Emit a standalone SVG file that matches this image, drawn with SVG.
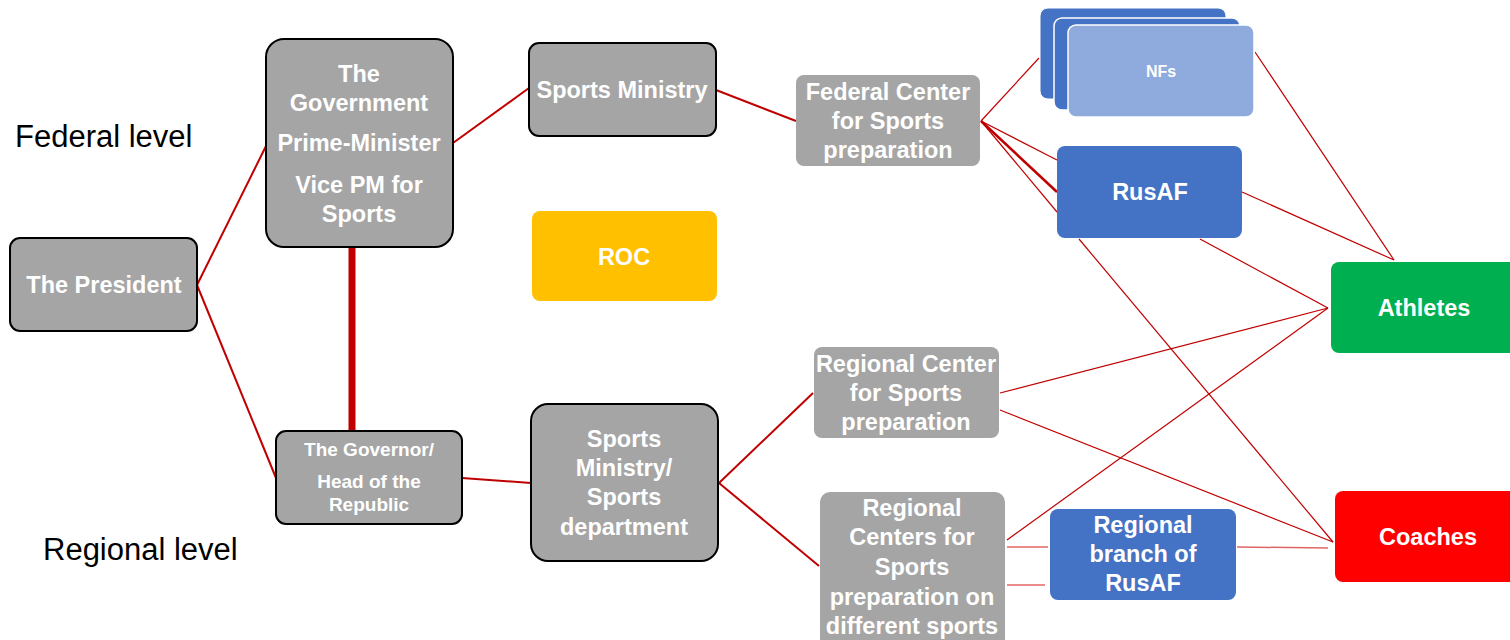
<svg xmlns="http://www.w3.org/2000/svg" width="1510" height="640" viewBox="0 0 1510 640">
<style>
.g{fill:#a5a5a5}
.gs{fill:#a5a5a5;stroke:#000;stroke-width:2}
.t{font-family:"Liberation Sans",Arial,sans-serif;font-weight:bold;fill:#fff;text-anchor:middle;font-size:23.5px}
.lvl{font-family:"Liberation Sans",Arial,sans-serif;font-size:31px;fill:#000}
.c{stroke:#c00000;fill:none}
.m{stroke-width:2}
.s{stroke-width:1.2}
</style>
<rect width="1510" height="640" fill="#fff"/>
<text class="lvl" x="15" y="147">Federal level</text>
<text class="lvl" x="43" y="560">Regional level</text>
<g id="connectors">
<line class="c m" x1="197" y1="285" x2="266" y2="146"/>
<line class="c m" x1="197" y1="285" x2="276" y2="478"/>
<line class="c" stroke-width="7" x1="352" y1="248" x2="352" y2="430"/>
<line class="c m" x1="453" y1="143" x2="529" y2="88"/>
<line class="c m" x1="716" y1="90" x2="796" y2="121"/>
<line class="c s" x1="981" y1="121" x2="1039" y2="58"/>
<line class="c s" x1="981" y1="121" x2="1057" y2="160"/>
<line class="c" stroke-width="2.5" x1="981" y1="121" x2="1057" y2="192"/>
<line class="c s" x1="981" y1="121" x2="1057" y2="212"/>
<line class="c m" x1="462" y1="478" x2="531" y2="483"/>
<line class="c m" x1="719" y1="483" x2="813" y2="393"/>
<line class="c m" x1="719" y1="483" x2="819" y2="566"/>
<line class="c s" x1="1255" y1="52" x2="1394" y2="260"/>
<line class="c s" x1="1242" y1="192" x2="1394" y2="260"/>
<line class="c s" x1="1200" y1="239" x2="1328" y2="308"/>
<line class="c s" x1="1079" y1="239" x2="1333" y2="542"/>
<line class="c s" x1="1000" y1="393" x2="1328" y2="308"/>
<line class="c s" x1="1000" y1="410" x2="1333" y2="542"/>
<line class="c s" x1="1007" y1="540" x2="1328" y2="308"/>
<line stroke="#e06666" stroke-width="1.5" x1="1007" y1="547" x2="1048" y2="547"/>
<line stroke="#e06666" stroke-width="1.5" x1="1007" y1="585" x2="1045" y2="585"/>
<line stroke="#e06666" stroke-width="1.5" x1="1237" y1="547" x2="1328" y2="548"/>
</g>
<g id="president">
<rect class="gs" x="10" y="238" width="187" height="93" rx="10"/>
<text class="t" x="104" y="293">The President</text>
</g>
<g id="government">
<rect class="gs" x="266" y="39" width="187" height="208" rx="18"/>
<text class="t" x="359" y="82">The</text>
<text class="t" x="359" y="111">Government</text>
<text class="t" x="359" y="151">Prime-Minister</text>
<text class="t" x="359" y="193">Vice PM for</text>
<text class="t" x="359" y="222">Sports</text>
</g>
<g id="sports-ministry">
<rect class="gs" x="529" y="43" width="187" height="93" rx="10"/>
<text class="t" x="622" y="98">Sports Ministry</text>
</g>
<g id="roc">
<rect x="532" y="211" width="185" height="90" rx="8" fill="#ffc000"/>
<text class="t" x="624" y="265">ROC</text>
</g>
<g id="governor">
<rect class="gs" x="276" y="431" width="186" height="93" rx="10"/>
<text class="t" x="369" y="456" style="font-size:19px">The Governor/</text>
<text class="t" x="369" y="488" style="font-size:19px">Head of the</text>
<text class="t" x="369" y="511" style="font-size:19px">Republic</text>
</g>
<g id="sports-department">
<rect class="gs" x="531" y="404" width="187" height="157" rx="17"/>
<text class="t" x="624" y="447">Sports</text>
<text class="t" x="624" y="476">Ministry/</text>
<text class="t" x="624" y="505">Sports</text>
<text class="t" x="624" y="535">department</text>
</g>
<g id="federal-center">
<rect class="g" x="796" y="75" width="184" height="91" rx="8"/>
<text class="t" x="888" y="100">Federal Center</text>
<text class="t" x="888" y="129">for Sports</text>
<text class="t" x="888" y="158">preparation</text>
</g>
<g id="regional-center">
<rect class="g" x="814" y="347" width="185" height="91" rx="8"/>
<text class="t" x="906" y="372">Regional Center</text>
<text class="t" x="906" y="401">for Sports</text>
<text class="t" x="906" y="430">preparation</text>
</g>
<g id="regional-centers">
<rect class="g" x="820" y="492" width="185" height="160" rx="10"/>
<text class="t" x="912" y="516">Regional</text>
<text class="t" x="912" y="545">Centers for</text>
<text class="t" x="912" y="575">Sports</text>
<text class="t" x="912" y="605">preparation on</text>
<text class="t" x="912" y="634">different sports</text>
</g>
<g id="nfs">
<rect x="1040" y="8" width="186" height="91" rx="8" fill="#4472c4" stroke="#fff" stroke-width="1"/>
<rect x="1054" y="18" width="186" height="92" rx="8" fill="#4472c4" stroke="#fff" stroke-width="1.5"/>
<rect x="1068" y="25" width="186" height="92" rx="8" fill="#8faadc" stroke="#fff" stroke-width="1.5"/>
<text class="t" x="1161" y="77" style="font-size:16px">NFs</text>
</g>
<g id="rusaf">
<rect x="1057" y="146" width="185" height="92" rx="8" fill="#4472c4"/>
<text class="t" x="1150" y="200">RusAF</text>
</g>
<g id="regional-branch">
<rect x="1050" y="509" width="186" height="91" rx="8" fill="#4472c4"/>
<text class="t" x="1143" y="533">Regional</text>
<text class="t" x="1143" y="562">branch of</text>
<text class="t" x="1143" y="591">RusAF</text>
</g>
<g id="athletes">
<rect x="1331" y="262" width="190" height="91" rx="8" fill="#00b050"/>
<text class="t" x="1424" y="316">Athletes</text>
</g>
<g id="coaches">
<rect x="1335" y="491" width="190" height="91" rx="8" fill="#ff0000"/>
<text class="t" x="1428" y="545">Coaches</text>
</g>
</svg>
